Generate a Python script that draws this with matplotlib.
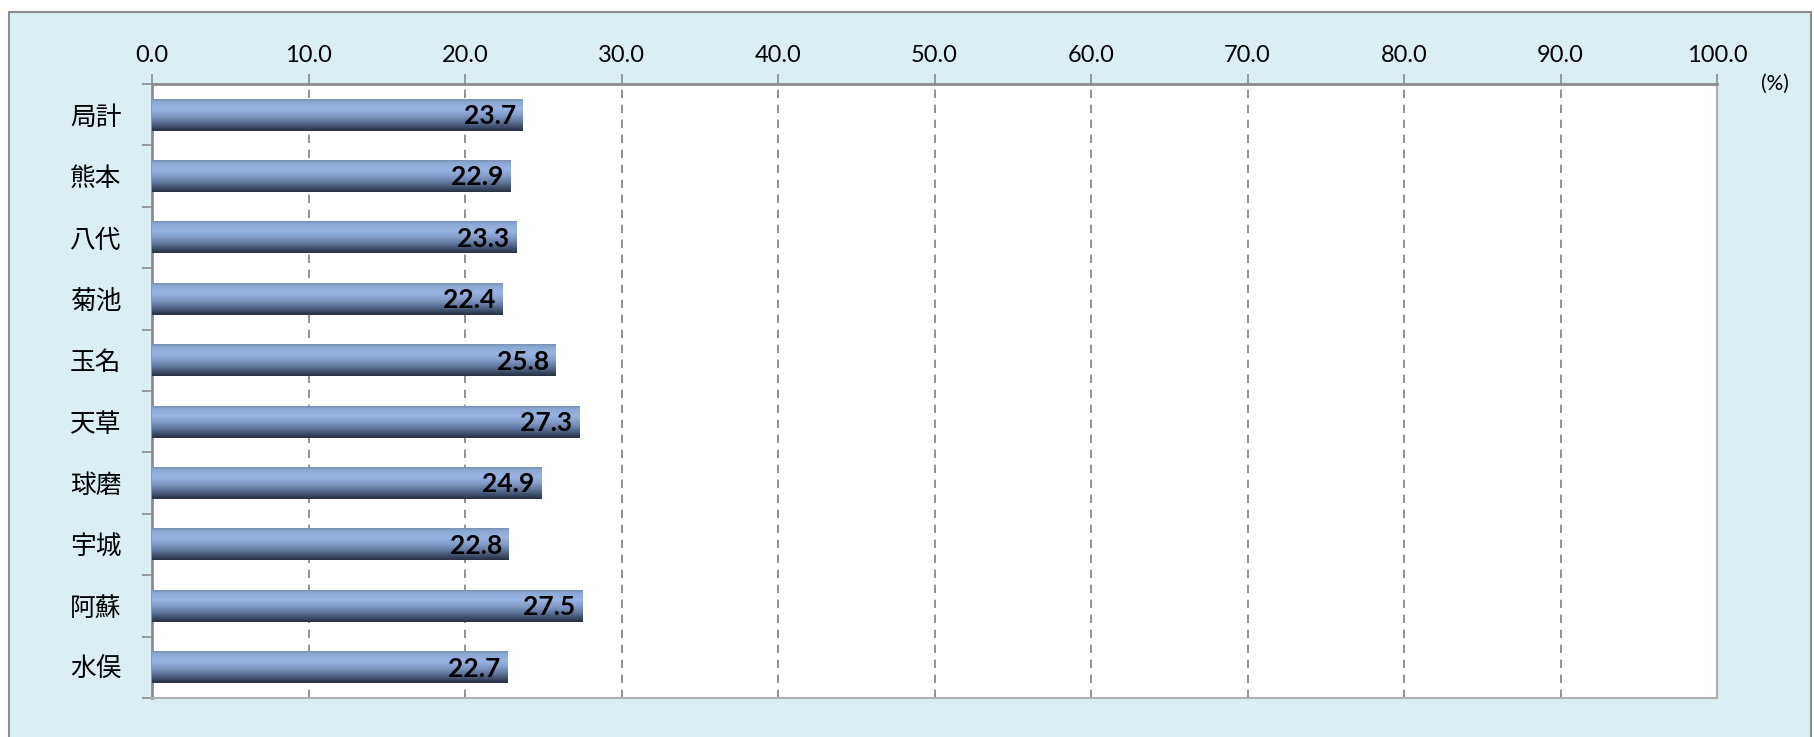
import numpy as np
import matplotlib.pyplot as plt
from matplotlib.colors import LinearSegmentedColormap
from matplotlib.patches import Rectangle

# data
offices = ['局計', '熊本', '八代', '菊池', '玉名', '天草', '球磨', '宇城', '阿蘇', '水俣']
rates = [23.7, 22.9, 23.3, 22.4, 25.8, 27.3, 24.9, 22.8, 27.5, 22.7]
x_ticks = [0, 10, 20, 30, 40, 50, 60, 70, 80, 90, 100]

W, H = 1815, 737
fig = plt.figure(figsize=(W / 100, H / 100), dpi=100, facecolor='white')

# light blue chart frame (drawn behind the axes)
fig.patches.append(Rectangle((9 / W, -0.02), (1811 - 9) / W, 1.02 - 12 / H,
                             transform=fig.transFigure, facecolor='#DBEEF4',
                             edgecolor='#8C8C8C', linewidth=1.5, zorder=-5))

ax = fig.add_axes([152 / W, 1 - 698 / H, (1717 - 152) / W, (698 - 84) / H])
ax.set_facecolor('white')

# shaded bar colours, top to bottom
bar_cmap = LinearSegmentedColormap.from_list('bar', [
    (0.0, '#7A90B6'), (0.08, '#8CA7D4'), (0.3, '#97B4E3'), (0.5, '#849DC9'),
    (0.7, '#61779E'), (0.88, '#3D4B66'), (1.0, '#283142')])
grad = np.linspace(0, 1, 64).reshape(-1, 1)

ypos = np.arange(len(offices))
bars = ax.barh(ypos, rates, height=0.52, color='none', edgecolor='none', zorder=3)
for b in bars:
    x0, y0, w, h = b.get_x(), b.get_y(), b.get_width(), b.get_height()
    ax.imshow(grad, cmap=bar_cmap, aspect='auto', interpolation='bicubic',
              extent=(x0, x0 + w, y0 + h, y0), zorder=3)
    ax.text(x0 + w - 0.45, y0 + h / 2 + 0.02, f'{w:.1f}', ha='right', va='center',
            fontsize=19, fontweight='bold', family='Lato', color='black', zorder=4)

ax.set_xlim(0, 100)
ax.set_ylim(len(offices) - 0.5, -0.5)
ax.set_xticks(x_ticks)
ax.set_xticklabels([f'{v:.1f}' for v in x_ticks], family='Lato', fontsize=17)
ax.xaxis.tick_top()
ax.tick_params(axis='x', length=7, width=1.2, color='#8C8C8C', pad=6, top=True, bottom=False)

# y ticks sit between the categories, labels centred on the bars
ax.set_yticks(np.arange(len(offices) + 1) - 0.5)
ax.set_yticklabels([])
ax.set_yticks(ypos, minor=True)
ax.set_yticklabels(offices, minor=True, family='Noto Sans CJK JP', fontsize=18.5)
ax.tick_params(axis='y', which='major', length=7, width=1.2, color='#8C8C8C')
ax.tick_params(axis='y', which='minor', length=0, pad=22)

ax.grid(axis='x', linestyle=(0, (5, 4)), color='#7F7F7F', linewidth=1.2, zorder=1)
ax.set_axisbelow(True)
for side in ['left', 'top']:
    ax.spines[side].set_color('#8C8C8C')
    ax.spines[side].set_linewidth(2)
for side in ['right', 'bottom']:
    ax.spines[side].set_color('#B0B0B0')
    ax.spines[side].set_linewidth(1.5)

fig.text(1775 / W, 1 - 84 / H, '(%)', family='Lato', fontsize=15, ha='center', va='center')

fig.savefig('out.png', dpi=100)
